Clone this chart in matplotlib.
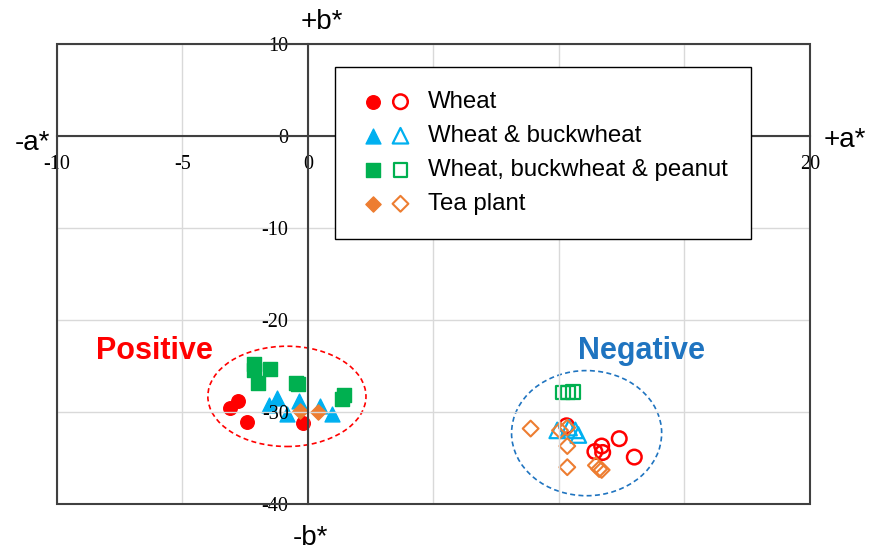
import matplotlib
matplotlib.use("Agg")
import matplotlib.pyplot as plt
from matplotlib.patches import Ellipse, Rectangle
from matplotlib.legend_handler import HandlerTuple

plt.rcParams['font.family'] = ['Liberation Sans', 'DejaVu Sans']
plt.rcParams['axes.unicode_minus'] = False

# positive cluster (filled markers)
wheat_pos_x = [-2.78, -3.1, -2.44, -0.19]
wheat_pos_y = [-28.8, -29.6, -31.1, -31.2]
buck_pos_x = [-1.55, -1.22, -0.82, -0.36, 0.48, 0.94]
buck_pos_y = [-29.2, -28.5, -30.2, -28.8, -29.3, -30.2]
peanut_pos_x = [-2.14, -2.14, -1.51, -1.98, -0.48, -0.39, 1.43, 1.34]
peanut_pos_y = [-24.8, -25.4, -25.3, -26.8, -26.8, -27.0, -28.1, -28.6]
tea_pos_x = [-0.32, 0.41]
tea_pos_y = [-29.9, -30.0]

# negative cluster (open markers)
wheat_neg_x = [10.3, 11.43, 11.7, 11.74, 12.4, 13.0]
wheat_neg_y = [-31.5, -34.3, -33.7, -34.4, -32.9, -34.9]
buck_neg_x = [9.93, 10.4, 10.65, 10.77]
buck_neg_y = [-32.0, -31.7, -32.0, -32.5]
peanut_neg_x = [10.15, 10.35, 10.55]
peanut_neg_y = [-27.9, -27.9, -27.8]
tea_neg_x = [8.87, 10.04, 10.33, 10.33, 10.33, 11.47, 11.6, 11.7]
tea_neg_y = [-31.8, -32.0, -31.7, -33.7, -36.0, -35.8, -36.2, -36.3]

labels = ['Wheat', 'Wheat & buckwheat', 'Wheat, buckwheat & peanut', 'Tea plant']
xticks = [-10, -5, 0, 5, 10, 15, 20]
yticks = [10, 0, -10, -20, -30, -40]

RED = '#FF0000'
BLUE = '#00B0F0'
GREEN = '#00B050'
ORANGE = '#ED7D31'
DBLUE = '#1F74C0'

fig = plt.figure(figsize=(8.7, 5.51), dpi=100)
ax = fig.add_axes([57/870, 1-504/551, 753/870, 460/551])
ax.set_xlim(-10, 20)
ax.set_ylim(-40, 10)
ax.set_xticks(xticks)
ax.set_yticks(yticks)
ax.grid(color='#d9d9d9', lw=1)

for s in ['top', 'right']:
    ax.spines[s].set_visible(False)
ax.spines['left'].set_position(('data', 0))
ax.spines['bottom'].set_position(('data', 0))
for s in ['left', 'bottom']:
    ax.spines[s].set_color('#404040')
    ax.spines[s].set_linewidth(1.5)
ax.add_patch(Rectangle((0, 0), 1, 1, transform=ax.transAxes, fill=False,
                       edgecolor='#404040', lw=1.5, clip_on=False, zorder=3))
ax.tick_params(length=0, labelsize=14.5)
ax.tick_params(axis='x', pad=14)
ax.tick_params(axis='y', pad=14)
for t in ax.get_xticklabels() + ax.get_yticklabels():
    t.set_fontfamily('Liberation Serif')

ms = 95
h1 = ax.scatter(wheat_pos_x, wheat_pos_y, s=ms, marker='o', color=RED, zorder=1)
h2 = ax.scatter(buck_pos_x, buck_pos_y, s=ms + 20, marker='^', color=BLUE, zorder=1)
h3 = ax.scatter(peanut_pos_x, peanut_pos_y, s=ms, marker='s', color=GREEN, zorder=1)
h4 = ax.scatter(tea_pos_x, tea_pos_y, s=60, marker='D', color=ORANGE, zorder=1)

o1 = ax.scatter(wheat_neg_x, wheat_neg_y, s=ms + 15, marker='o', facecolor='none',
                edgecolor=RED, lw=1.8, zorder=1)
o2 = ax.scatter(buck_neg_x, buck_neg_y, s=ms + 30, marker='^', facecolor='none',
                edgecolor=BLUE, lw=1.6, zorder=1)
o3 = ax.scatter(peanut_neg_x, peanut_neg_y, s=ms, marker='s', facecolor='none',
                edgecolor=GREEN, lw=1.6, zorder=1)
o4 = ax.scatter(tea_neg_x, tea_neg_y, s=65, marker='D', facecolor='none',
                edgecolor=ORANGE, lw=1.5, zorder=1)

ax.add_patch(Ellipse((-0.84, -28.3), 6.3, 10.9, fill=False, edgecolor=RED,
                     ls=(0, (3, 2)), lw=1.2))
ax.add_patch(Ellipse((11.1, -32.3), 5.98, 13.6, fill=False, edgecolor=DBLUE,
                     ls=(0, (3, 2)), lw=1.2))

ax.text(-6.12, -23.4, 'Positive', color=RED, fontsize=22, fontweight='bold',
        ha='center', va='center')
ax.text(13.29, -23.4, 'Negative', color=DBLUE, fontsize=22, fontweight='bold',
        ha='center', va='center')

fig.text(322/870, 1-22/551, '+b*', fontsize=20, ha='center', va='center')
fig.text(310/870, 1-538/551, '-b*', fontsize=20, ha='center', va='center')
fig.text(32/870, 1-143/551, '-a*', fontsize=20, ha='center', va='center')
fig.text(845/870, 1-140/551, '+a*', fontsize=20, ha='center', va='center')

leg = ax.legend([(h1, o1), (h2, o2), (h3, o3), (h4, o4)], labels,
                handler_map={tuple: HandlerTuple(ndivide=None, pad=0)},
                loc='upper left', bbox_to_anchor=((335-57)/753, (504-67)/460),
                borderaxespad=0, fontsize=17.3, handlelength=2.3,
                handletextpad=0.55, labelspacing=0.5, borderpad=1.0,
                fancybox=False, edgecolor='black', framealpha=1,
                scatterpoints=1)
leg.get_frame().set_linewidth(1.0)

fig.savefig('out.png', dpi=100)
